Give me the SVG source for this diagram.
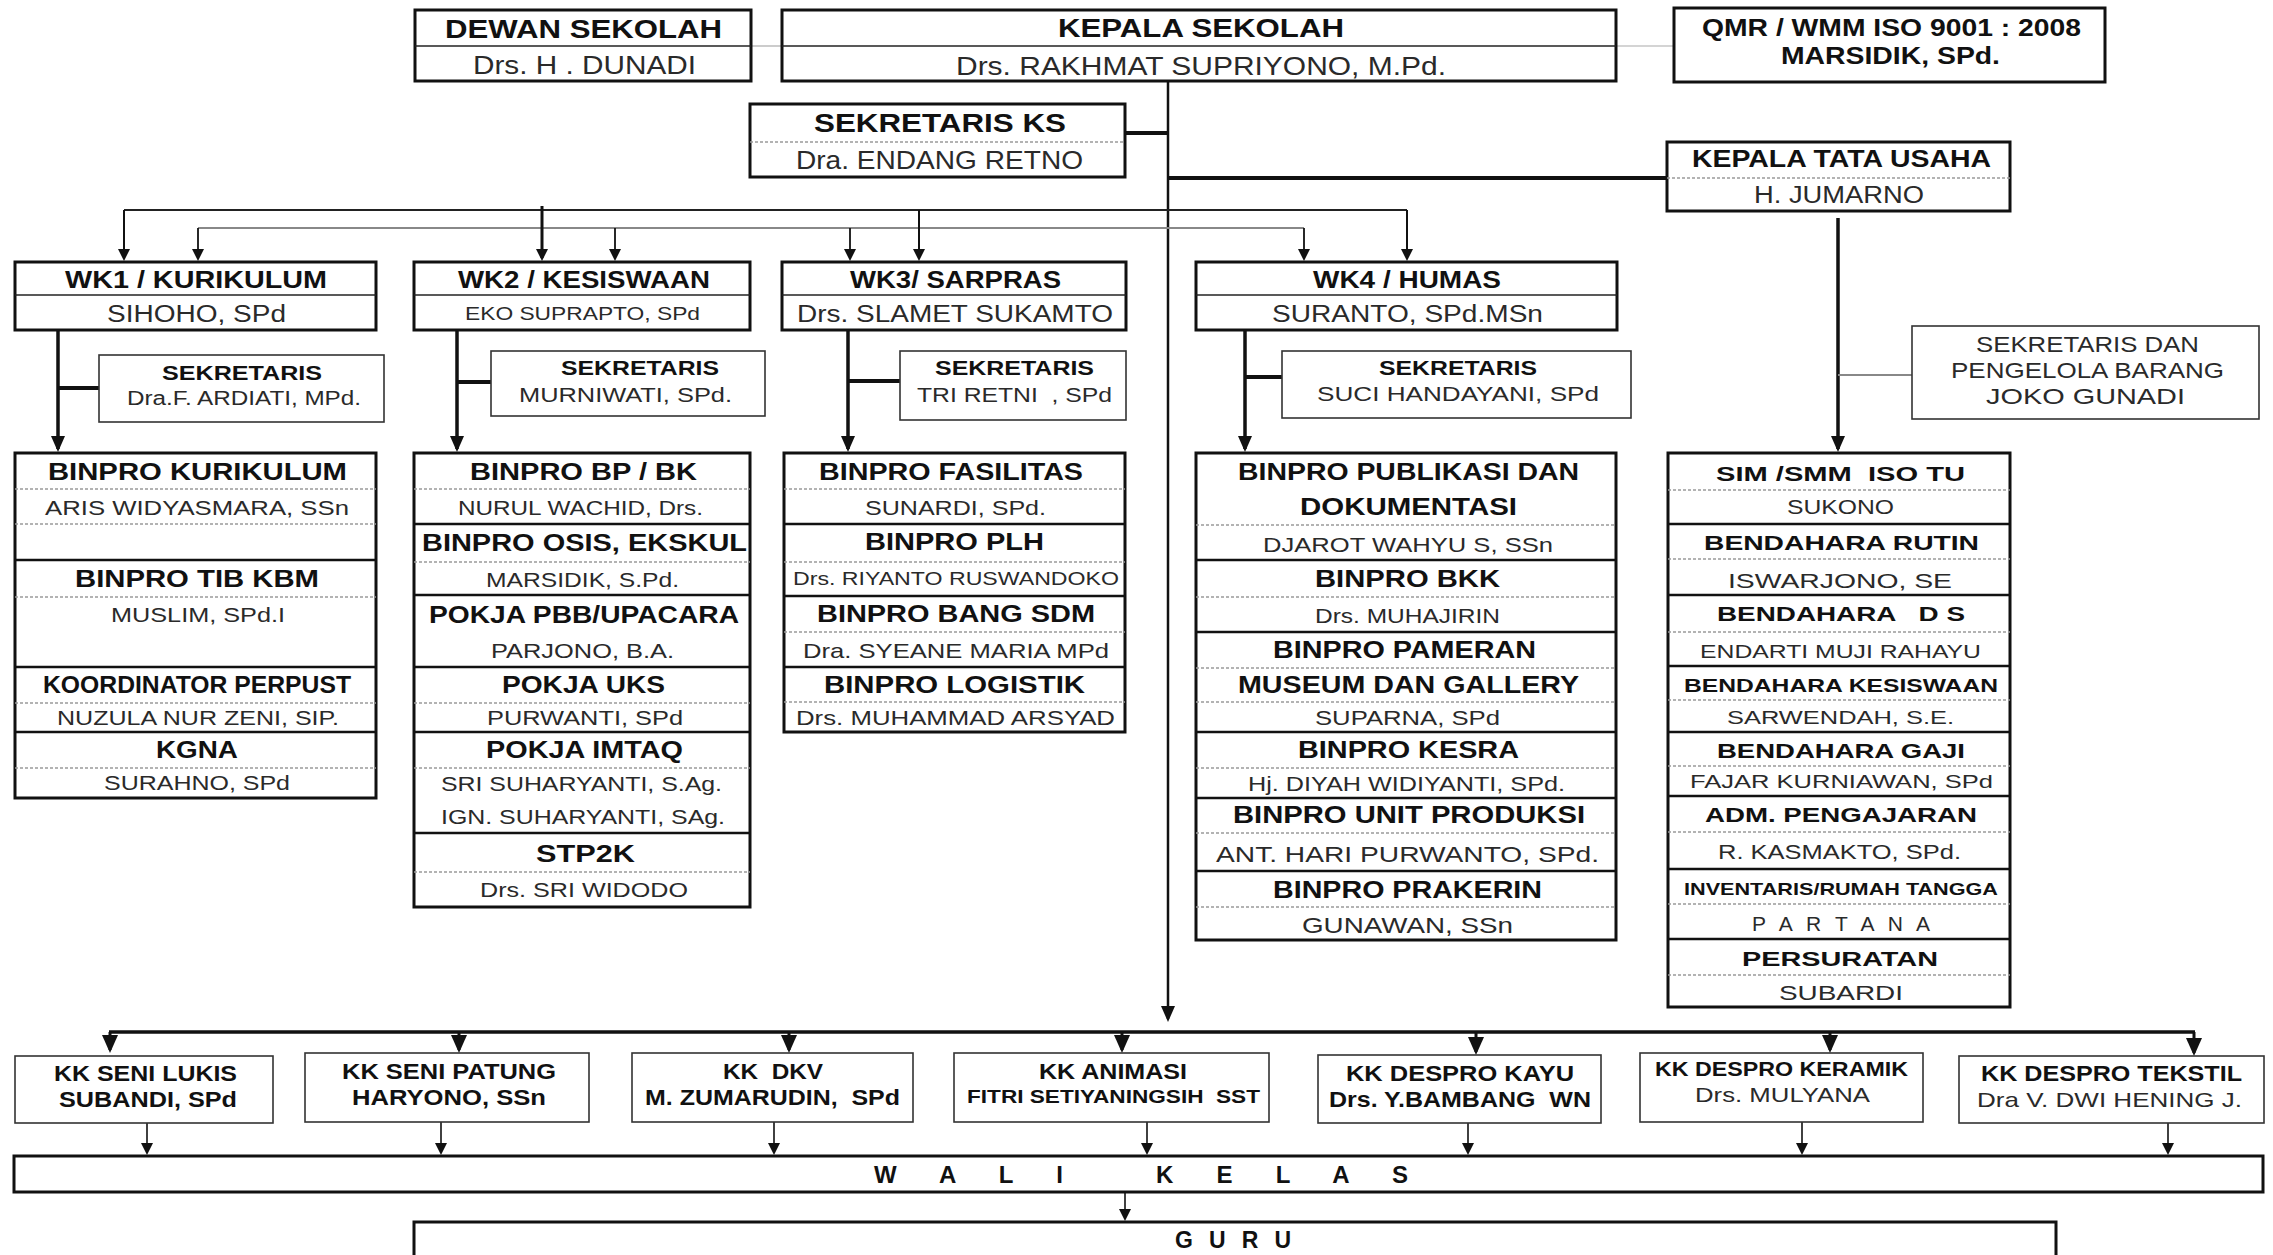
<svg xmlns="http://www.w3.org/2000/svg" width="2273" height="1255" viewBox="0 0 2273 1255">
<defs>
<style>
text{font-family:"Liberation Sans",Arial,sans-serif;white-space:pre}
.b{font-weight:bold;fill:#111}
.r{fill:#2a2a2a}
.f25{font-size:25px}.f24{font-size:24px}.f23{font-size:23px}.f22{font-size:22px}.f21{font-size:21px}.f20{font-size:20px}.f19{font-size:19px}.f18{font-size:18px}.f17{font-size:17px}
.bx{fill:#fff;stroke:#111;stroke-width:3}
.bxt{fill:#fff;stroke:#333;stroke-width:1.6}
.sd{stroke:#111;stroke-width:2.5}
.td{stroke:#222;stroke-width:1.5}
.dd{stroke:#9a9a9a;stroke-width:1.5;stroke-dasharray:3 2}
.cn{stroke:#111;fill:none}
</style>
<marker id="aS" viewBox="0 0 12 12" refX="9" refY="6" markerWidth="12" markerHeight="12" markerUnits="userSpaceOnUse" orient="auto"><path d="M0,0 L12,6 L0,12 z" fill="#111"/></marker>
<marker id="aM" viewBox="0 0 16 14" refX="13" refY="7" markerWidth="16" markerHeight="14" markerUnits="userSpaceOnUse" orient="auto"><path d="M0,0 L16,7 L0,14 z" fill="#111"/></marker>
<marker id="aL" viewBox="0 0 18 16" refX="15" refY="8" markerWidth="18" markerHeight="16" markerUnits="userSpaceOnUse" orient="auto"><path d="M0,0 L18,8 L0,16 z" fill="#111"/></marker>
</defs>
<rect x="0" y="0" width="2273" height="1255" fill="#fff"/>

<g id="connectors" class="cn">
<line x1="751" y1="46" x2="782" y2="46" stroke="#aaa" stroke-width="1.2"/>
<line x1="1616" y1="46" x2="1674" y2="46" stroke="#aaa" stroke-width="1.2"/>
<line x1="1168" y1="81" x2="1168" y2="1019" stroke-width="2.5" marker-end="url(#aM)"/>
<line x1="1125" y1="133" x2="1168" y2="133" stroke-width="4"/>
<line x1="1168" y1="178" x2="1667" y2="178" stroke-width="4"/>
<line x1="124" y1="210" x2="1407" y2="210" stroke="#222" stroke-width="2"/>
<line x1="198" y1="228" x2="1304" y2="228" stroke="#888" stroke-width="2"/>
<line x1="124" y1="210" x2="124" y2="258" stroke-width="2" marker-end="url(#aS)"/>
<line x1="542" y1="206" x2="542" y2="258" stroke-width="3" marker-end="url(#aS)"/>
<line x1="919" y1="210" x2="919" y2="258" stroke-width="2" marker-end="url(#aS)"/>
<line x1="1407" y1="210" x2="1407" y2="258" stroke-width="2" marker-end="url(#aS)"/>
<line x1="198" y1="228" x2="198" y2="258" stroke-width="1.8" marker-end="url(#aS)"/>
<line x1="615" y1="228" x2="615" y2="258" stroke-width="1.8" marker-end="url(#aS)"/>
<line x1="850" y1="228" x2="850" y2="258" stroke-width="1.8" marker-end="url(#aS)"/>
<line x1="1304" y1="228" x2="1304" y2="258" stroke-width="1.8" marker-end="url(#aS)"/>
<line x1="58" y1="331" x2="58" y2="449" stroke-width="3.5" marker-end="url(#aM)"/>
<line x1="58" y1="388" x2="99" y2="388" stroke-width="4"/>
<line x1="457" y1="331" x2="457" y2="449" stroke-width="3.5" marker-end="url(#aM)"/>
<line x1="457" y1="382" x2="491" y2="382" stroke-width="4"/>
<line x1="848" y1="331" x2="848" y2="449" stroke-width="3.5" marker-end="url(#aM)"/>
<line x1="848" y1="381" x2="900" y2="381" stroke-width="4"/>
<line x1="1245" y1="331" x2="1245" y2="449" stroke-width="3.5" marker-end="url(#aM)"/>
<line x1="1245" y1="377" x2="1282" y2="377" stroke-width="4"/>
<line x1="1838" y1="218" x2="1838" y2="449" stroke-width="3.5" marker-end="url(#aM)"/>
<line x1="1838" y1="375" x2="1912" y2="375" stroke="#888" stroke-width="2"/>
<line x1="109" y1="1032" x2="2195" y2="1032" stroke-width="3.5"/>
<line x1="110" y1="1032" x2="110" y2="1050" stroke-width="3" marker-end="url(#aL)"/>
<line x1="459" y1="1032" x2="459" y2="1050" stroke-width="3" marker-end="url(#aL)"/>
<line x1="789" y1="1032" x2="789" y2="1050" stroke-width="3" marker-end="url(#aL)"/>
<line x1="1122" y1="1032" x2="1122" y2="1050" stroke-width="3" marker-end="url(#aL)"/>
<line x1="1476" y1="1032" x2="1476" y2="1052" stroke-width="3" marker-end="url(#aL)"/>
<line x1="1830" y1="1032" x2="1830" y2="1050" stroke-width="3" marker-end="url(#aL)"/>
<line x1="2194" y1="1032" x2="2194" y2="1053" stroke-width="3" marker-end="url(#aL)"/>
<line x1="147" y1="1123" x2="147" y2="1152" stroke-width="1.6" marker-end="url(#aS)"/>
<line x1="441" y1="1122" x2="441" y2="1152" stroke-width="1.6" marker-end="url(#aS)"/>
<line x1="774" y1="1122" x2="774" y2="1152" stroke-width="1.6" marker-end="url(#aS)"/>
<line x1="1147" y1="1122" x2="1147" y2="1152" stroke-width="1.6" marker-end="url(#aS)"/>
<line x1="1468" y1="1123" x2="1468" y2="1152" stroke-width="1.6" marker-end="url(#aS)"/>
<line x1="1802" y1="1122" x2="1802" y2="1152" stroke-width="1.6" marker-end="url(#aS)"/>
<line x1="2168" y1="1123" x2="2168" y2="1152" stroke-width="1.6" marker-end="url(#aS)"/>
<line x1="1125" y1="1192" x2="1125" y2="1218" stroke-width="1.6" marker-end="url(#aS)"/>
</g>

<g id="dewan-sekolah">
<rect class="bx" x="415" y="10" width="336" height="71" stroke-width="2.5"/>
<line class="td" x1="415" y1="46" x2="751" y2="46"/>
<text class="b f25" x="445" y="38" textLength="277" lengthAdjust="spacingAndGlyphs">DEWAN SEKOLAH</text>
<text class="r f25" x="473" y="74" textLength="223" lengthAdjust="spacingAndGlyphs">Drs. H . DUNADI</text>
</g>
<g id="kepala-sekolah">
<rect class="bx" x="782" y="10" width="834" height="71" stroke-width="2.5"/>
<line class="td" x1="782" y1="46" x2="1616" y2="46"/>
<text class="b f25" x="1058" y="37" textLength="286" lengthAdjust="spacingAndGlyphs">KEPALA SEKOLAH</text>
<text class="r f25" x="956" y="75" textLength="490" lengthAdjust="spacingAndGlyphs">Drs. RAKHMAT SUPRIYONO, M.Pd.</text>
</g>
<g id="qmr">
<rect class="bx" x="1674" y="8" width="431" height="74" stroke-width="4"/>
<text class="b f23" x="1702" y="36" textLength="379" lengthAdjust="spacingAndGlyphs">QMR / WMM ISO 9001 : 2008</text>
<text class="b f23" x="1781" y="64" textLength="219" lengthAdjust="spacingAndGlyphs">MARSIDIK, SPd.</text>
</g>
<g id="sekretaris-ks">
<rect class="bx" x="750" y="104" width="375" height="73"/>
<line class="dd" x1="750" y1="142" x2="1125" y2="142"/>
<text class="b f25" x="814" y="132" textLength="252" lengthAdjust="spacingAndGlyphs">SEKRETARIS KS</text>
<text class="r f25" x="796" y="169" textLength="287" lengthAdjust="spacingAndGlyphs">Dra. ENDANG RETNO</text>
</g>
<g id="kepala-tata-usaha">
<rect class="bx" x="1667" y="142" width="343" height="69" stroke-width="2.5"/>
<line class="dd" x1="1667" y1="178" x2="2010" y2="178"/>
<text class="b f23" x="1692" y="167" textLength="299" lengthAdjust="spacingAndGlyphs">KEPALA TATA USAHA</text>
<text class="r f23" x="1754" y="203" textLength="170" lengthAdjust="spacingAndGlyphs">H. JUMARNO</text>
</g>
<g id="sekretaris-pengelola-barang">
<rect class="bxt" x="1912" y="326" width="347" height="93" stroke="#555"/>
<text class="r f22" x="1976" y="352" textLength="223" lengthAdjust="spacingAndGlyphs">SEKRETARIS DAN</text>
<text class="r f22" x="1951" y="378" textLength="273" lengthAdjust="spacingAndGlyphs">PENGELOLA BARANG</text>
<text class="r f22" x="1986" y="404" textLength="199" lengthAdjust="spacingAndGlyphs">JOKO GUNADI</text>
</g>

<g id="wk1">
<rect class="bx" x="15" y="262" width="361" height="68"/>
<line class="td" x1="15" y1="295" x2="376" y2="295"/>
<text class="b f24" x="65" y="288" textLength="262" lengthAdjust="spacingAndGlyphs">WK1 / KURIKULUM</text>
<text class="r f23" x="107" y="322" textLength="179" lengthAdjust="spacingAndGlyphs">SIHOHO, SPd</text>
</g>
<g id="wk2">
<rect class="bx" x="414" y="262" width="336" height="68"/>
<line class="td" x1="414" y1="295" x2="750" y2="295"/>
<text class="b f24" x="458" y="288" textLength="252" lengthAdjust="spacingAndGlyphs">WK2 / KESISWAAN</text>
<text class="r f18" x="465" y="320" textLength="235" lengthAdjust="spacingAndGlyphs">EKO SUPRAPTO, SPd</text>
</g>
<g id="wk3">
<rect class="bx" x="782" y="262" width="344" height="68"/>
<line class="td" x1="782" y1="295" x2="1126" y2="295"/>
<text class="b f24" x="850" y="288" textLength="211" lengthAdjust="spacingAndGlyphs">WK3/ SARPRAS</text>
<text class="r f23" x="797" y="322" textLength="316" lengthAdjust="spacingAndGlyphs">Drs. SLAMET SUKAMTO</text>
</g>
<g id="wk4">
<rect class="bx" x="1196" y="262" width="421" height="68"/>
<line class="td" x1="1196" y1="295" x2="1617" y2="295"/>
<text class="b f24" x="1313" y="288" textLength="188" lengthAdjust="spacingAndGlyphs">WK4 / HUMAS</text>
<text class="r f23" x="1272" y="322" textLength="271" lengthAdjust="spacingAndGlyphs">SURANTO, SPd.MSn</text>
</g>

<g id="sekretaris-wk1">
<rect class="bxt" x="99" y="355" width="285" height="67"/>
<text class="b f21" x="162" y="380" textLength="160" lengthAdjust="spacingAndGlyphs">SEKRETARIS</text>
<text class="r f20" x="127" y="405" textLength="234" lengthAdjust="spacingAndGlyphs">Dra.F. ARDIATI, MPd.</text>
</g>
<g id="sekretaris-wk2">
<rect class="bxt" x="491" y="351" width="274" height="65"/>
<text class="b f21" x="561" y="375" textLength="158" lengthAdjust="spacingAndGlyphs">SEKRETARIS</text>
<text class="r f21" x="519" y="402" textLength="213" lengthAdjust="spacingAndGlyphs">MURNIWATI, SPd.</text>
</g>
<g id="sekretaris-wk3">
<rect class="bxt" x="900" y="351" width="226" height="69"/>
<text class="b f21" x="935" y="375" textLength="159" lengthAdjust="spacingAndGlyphs">SEKRETARIS</text>
<text class="r f21" x="917" y="402" textLength="195" lengthAdjust="spacingAndGlyphs" xml:space="preserve">TRI RETNI  , SPd</text>
</g>
<g id="sekretaris-wk4">
<rect class="bxt" x="1282" y="351" width="349" height="67"/>
<text class="b f21" x="1379" y="375" textLength="158" lengthAdjust="spacingAndGlyphs">SEKRETARIS</text>
<text class="r f21" x="1317" y="401" textLength="282" lengthAdjust="spacingAndGlyphs">SUCI HANDAYANI, SPd</text>
</g>

<g id="kurikulum-units">
<rect class="bx" x="15" y="453" width="361" height="345"/>
<line class="dd" x1="15" y1="489" x2="376" y2="489"/>
<line class="dd" x1="15" y1="524" x2="376" y2="524"/>
<line class="sd" x1="15" y1="560" x2="376" y2="560"/>
<line class="dd" x1="15" y1="597" x2="376" y2="597"/>
<line class="sd" x1="15" y1="667" x2="376" y2="667"/>
<line class="dd" x1="15" y1="703" x2="376" y2="703"/>
<line class="sd" x1="15" y1="732" x2="376" y2="732"/>
<line class="dd" x1="15" y1="768" x2="376" y2="768"/>
<text class="b f23" x="48" y="480" textLength="299" lengthAdjust="spacingAndGlyphs">BINPRO KURIKULUM</text>
<text class="r f21" x="45" y="515" textLength="304" lengthAdjust="spacingAndGlyphs">ARIS WIDYASMARA, SSn</text>
<text class="b f23" x="75" y="587" textLength="244" lengthAdjust="spacingAndGlyphs">BINPRO TIB KBM</text>
<text class="r f21" x="111" y="622" textLength="174" lengthAdjust="spacingAndGlyphs">MUSLIM, SPd.I</text>
<text class="b f23" x="43" y="693" textLength="308" lengthAdjust="spacingAndGlyphs">KOORDINATOR PERPUST</text>
<text class="r f21" x="57" y="725" textLength="282" lengthAdjust="spacingAndGlyphs">NUZULA NUR ZENI, SIP.</text>
<text class="b f23" x="156" y="758" textLength="82" lengthAdjust="spacingAndGlyphs">KGNA</text>
<text class="r f21" x="104" y="790" textLength="186" lengthAdjust="spacingAndGlyphs">SURAHNO, SPd</text>
</g>

<g id="kesiswaan-units">
<rect class="bx" x="414" y="453" width="336" height="454"/>
<line class="dd" x1="414" y1="489" x2="750" y2="489"/>
<line class="sd" x1="414" y1="524" x2="750" y2="524"/>
<line class="dd" x1="414" y1="562" x2="750" y2="562"/>
<line class="sd" x1="414" y1="595" x2="750" y2="595"/>
<line class="sd" x1="414" y1="667" x2="750" y2="667"/>
<line class="dd" x1="414" y1="703" x2="750" y2="703"/>
<line class="sd" x1="414" y1="732" x2="750" y2="732"/>
<line class="dd" x1="414" y1="768" x2="750" y2="768"/>
<line class="sd" x1="414" y1="833" x2="750" y2="833"/>
<line class="dd" x1="414" y1="872" x2="750" y2="872"/>
<text class="b f23" x="470" y="480" textLength="227" lengthAdjust="spacingAndGlyphs">BINPRO BP / BK</text>
<text class="r f21" x="458" y="515" textLength="245" lengthAdjust="spacingAndGlyphs">NURUL WACHID, Drs.</text>
<text class="b f23" x="422" y="551" textLength="325" lengthAdjust="spacingAndGlyphs">BINPRO OSIS, EKSKUL</text>
<text class="r f21" x="486" y="587" textLength="193" lengthAdjust="spacingAndGlyphs">MARSIDIK, S.Pd.</text>
<text class="b f23" x="429" y="623" textLength="310" lengthAdjust="spacingAndGlyphs">POKJA PBB/UPACARA</text>
<text class="r f21" x="491" y="658" textLength="183" lengthAdjust="spacingAndGlyphs">PARJONO, B.A.</text>
<text class="b f23" x="502" y="693" textLength="163" lengthAdjust="spacingAndGlyphs">POKJA UKS</text>
<text class="r f21" x="487" y="725" textLength="196" lengthAdjust="spacingAndGlyphs">PURWANTI, SPd</text>
<text class="b f23" x="486" y="758" textLength="197" lengthAdjust="spacingAndGlyphs">POKJA IMTAQ</text>
<text class="r f21" x="441" y="791" textLength="281" lengthAdjust="spacingAndGlyphs">SRI SUHARYANTI, S.Ag.</text>
<text class="r f21" x="441" y="824" textLength="284" lengthAdjust="spacingAndGlyphs">IGN. SUHARYANTI, SAg.</text>
<text class="b f23" x="536" y="862" textLength="99" lengthAdjust="spacingAndGlyphs">STP2K</text>
<text class="r f21" x="480" y="897" textLength="208" lengthAdjust="spacingAndGlyphs">Drs. SRI WIDODO</text>
</g>

<g id="sarpras-units">
<rect class="bx" x="784" y="453" width="341" height="279"/>
<line class="dd" x1="784" y1="489" x2="1125" y2="489"/>
<line class="sd" x1="784" y1="524" x2="1125" y2="524"/>
<line class="dd" x1="784" y1="562" x2="1125" y2="562"/>
<line class="sd" x1="784" y1="596" x2="1125" y2="596"/>
<line class="dd" x1="784" y1="632" x2="1125" y2="632"/>
<line class="sd" x1="784" y1="667" x2="1125" y2="667"/>
<line class="dd" x1="784" y1="702" x2="1125" y2="702"/>
<text class="b f23" x="819" y="480" textLength="264" lengthAdjust="spacingAndGlyphs">BINPRO FASILITAS</text>
<text class="r f21" x="865" y="515" textLength="181" lengthAdjust="spacingAndGlyphs">SUNARDI, SPd.</text>
<text class="b f23" x="865" y="550" textLength="179" lengthAdjust="spacingAndGlyphs">BINPRO PLH</text>
<text class="r f19" x="793" y="585" textLength="326" lengthAdjust="spacingAndGlyphs">Drs. RIYANTO RUSWANDOKO</text>
<text class="b f23" x="817" y="622" textLength="278" lengthAdjust="spacingAndGlyphs">BINPRO BANG SDM</text>
<text class="r f21" x="803" y="658" textLength="306" lengthAdjust="spacingAndGlyphs">Dra. SYEANE MARIA MPd</text>
<text class="b f23" x="824" y="693" textLength="261" lengthAdjust="spacingAndGlyphs">BINPRO LOGISTIK</text>
<text class="r f21" x="796" y="725" textLength="319" lengthAdjust="spacingAndGlyphs">Drs. MUHAMMAD ARSYAD</text>
</g>

<g id="humas-units">
<rect class="bx" x="1196" y="453" width="420" height="487"/>
<line class="dd" x1="1196" y1="525" x2="1616" y2="525"/>
<line class="sd" x1="1196" y1="560" x2="1616" y2="560"/>
<line class="dd" x1="1196" y1="597" x2="1616" y2="597"/>
<line class="sd" x1="1196" y1="632" x2="1616" y2="632"/>
<line class="dd" x1="1196" y1="668" x2="1616" y2="668"/>
<line class="dd" x1="1196" y1="702" x2="1616" y2="702"/>
<line class="sd" x1="1196" y1="732" x2="1616" y2="732"/>
<line class="dd" x1="1196" y1="768" x2="1616" y2="768"/>
<line class="sd" x1="1196" y1="798" x2="1616" y2="798"/>
<line class="dd" x1="1196" y1="833" x2="1616" y2="833" stroke-width="2.5"/>
<line class="sd" x1="1196" y1="871" x2="1616" y2="871"/>
<line class="dd" x1="1196" y1="907" x2="1616" y2="907"/>
<text class="b f23" x="1238" y="480" textLength="341" lengthAdjust="spacingAndGlyphs">BINPRO PUBLIKASI DAN</text>
<text class="b f23" x="1300" y="515" textLength="217" lengthAdjust="spacingAndGlyphs">DOKUMENTASI</text>
<text class="r f21" x="1263" y="552" textLength="290" lengthAdjust="spacingAndGlyphs">DJAROT WAHYU S, SSn</text>
<text class="b f23" x="1315" y="587" textLength="185" lengthAdjust="spacingAndGlyphs">BINPRO BKK</text>
<text class="r f21" x="1315" y="623" textLength="185" lengthAdjust="spacingAndGlyphs">Drs. MUHAJIRIN</text>
<text class="b f23" x="1273" y="658" textLength="263" lengthAdjust="spacingAndGlyphs">BINPRO PAMERAN</text>
<text class="b f23" x="1238" y="693" textLength="341" lengthAdjust="spacingAndGlyphs">MUSEUM DAN GALLERY</text>
<text class="r f21" x="1315" y="725" textLength="185" lengthAdjust="spacingAndGlyphs">SUPARNA, SPd</text>
<text class="b f23" x="1298" y="758" textLength="221" lengthAdjust="spacingAndGlyphs">BINPRO KESRA</text>
<text class="r f21" x="1248" y="791" textLength="317" lengthAdjust="spacingAndGlyphs">Hj. DIYAH WIDIYANTI, SPd.</text>
<text class="b f23" x="1233" y="823" textLength="352" lengthAdjust="spacingAndGlyphs">BINPRO UNIT PRODUKSI</text>
<text class="r f22" x="1216" y="862" textLength="383" lengthAdjust="spacingAndGlyphs">ANT. HARI PURWANTO, SPd.</text>
<text class="b f23" x="1273" y="898" textLength="269" lengthAdjust="spacingAndGlyphs">BINPRO PRAKERIN</text>
<text class="r f22" x="1302" y="933" textLength="211" lengthAdjust="spacingAndGlyphs">GUNAWAN, SSn</text>
</g>

<g id="tata-usaha-units">
<rect class="bx" x="1668" y="453" width="342" height="554"/>
<line class="dd" x1="1668" y1="490" x2="2010" y2="490"/>
<line class="sd" x1="1668" y1="524" x2="2010" y2="524"/>
<line class="dd" x1="1668" y1="559" x2="2010" y2="559"/>
<line class="sd" x1="1668" y1="595" x2="2010" y2="595"/>
<line class="dd" x1="1668" y1="632" x2="2010" y2="632"/>
<line class="sd" x1="1668" y1="666" x2="2010" y2="666"/>
<line class="dd" x1="1668" y1="700" x2="2010" y2="700"/>
<line class="sd" x1="1668" y1="732" x2="2010" y2="732"/>
<line class="dd" x1="1668" y1="766" x2="2010" y2="766"/>
<line class="sd" x1="1668" y1="796" x2="2010" y2="796"/>
<line class="dd" x1="1668" y1="832" x2="2010" y2="832"/>
<line class="sd" x1="1668" y1="869" x2="2010" y2="869"/>
<line class="dd" x1="1668" y1="904" x2="2010" y2="904"/>
<line class="sd" x1="1668" y1="939" x2="2010" y2="939"/>
<line class="dd" x1="1668" y1="975" x2="2010" y2="975"/>
<text class="b f21" x="1716" y="481" textLength="249" lengthAdjust="spacingAndGlyphs" xml:space="preserve">SIM /SMM  ISO TU</text>
<text class="r f20" x="1787" y="514" textLength="107" lengthAdjust="spacingAndGlyphs">SUKONO</text>
<text class="b f21" x="1704" y="550" textLength="275" lengthAdjust="spacingAndGlyphs">BENDAHARA RUTIN</text>
<text class="r f21" x="1728" y="588" textLength="224" lengthAdjust="spacingAndGlyphs">ISWARJONO, SE</text>
<text class="b f21" x="1717" y="621" textLength="248" lengthAdjust="spacingAndGlyphs" xml:space="preserve">BENDAHARA   D S</text>
<text class="r f19" x="1700" y="658" textLength="281" lengthAdjust="spacingAndGlyphs">ENDARTI MUJI RAHAYU</text>
<text class="b f19" x="1684" y="692" textLength="314" lengthAdjust="spacingAndGlyphs">BENDAHARA KESISWAAN</text>
<text class="r f19" x="1727" y="724" textLength="227" lengthAdjust="spacingAndGlyphs">SARWENDAH, S.E.</text>
<text class="b f21" x="1717" y="758" textLength="248" lengthAdjust="spacingAndGlyphs">BENDAHARA GAJI</text>
<text class="r f19" x="1690" y="788" textLength="303" lengthAdjust="spacingAndGlyphs">FAJAR KURNIAWAN, SPd</text>
<text class="b f21" x="1705" y="822" textLength="272" lengthAdjust="spacingAndGlyphs">ADM. PENGAJARAN</text>
<text class="r f20" x="1718" y="859" textLength="243" lengthAdjust="spacingAndGlyphs">R. KASMAKTO, SPd.</text>
<text class="b f17" x="1684" y="895" textLength="314" lengthAdjust="spacingAndGlyphs">INVENTARIS/RUMAH TANGGA</text>
<text class="r f21" x="1752" y="931" textLength="178" lengthAdjust="spacing" xml:space="preserve">P A R T A N A</text>
<text class="b f21" x="1742" y="966" textLength="196" lengthAdjust="spacingAndGlyphs">PERSURATAN</text>
<text class="r f21" x="1779" y="1000" textLength="124" lengthAdjust="spacingAndGlyphs">SUBARDI</text>
</g>

<g id="kk-seni-lukis">
<rect class="bxt" x="15" y="1056" width="258" height="67"/>
<text class="b f22" x="54" y="1081" textLength="183" lengthAdjust="spacingAndGlyphs">KK SENI LUKIS</text>
<text class="b f22" x="59" y="1107" textLength="178" lengthAdjust="spacingAndGlyphs">SUBANDI, SPd</text>
</g>
<g id="kk-seni-patung">
<rect class="bxt" x="305" y="1053" width="284" height="69"/>
<text class="b f22" x="342" y="1079" textLength="214" lengthAdjust="spacingAndGlyphs">KK SENI PATUNG</text>
<text class="b f22" x="352" y="1105" textLength="194" lengthAdjust="spacingAndGlyphs">HARYONO, SSn</text>
</g>
<g id="kk-dkv">
<rect class="bxt" x="632" y="1053" width="281" height="69"/>
<text class="b f22" x="723" y="1079" textLength="100" lengthAdjust="spacingAndGlyphs" xml:space="preserve">KK  DKV</text>
<text class="b f22" x="645" y="1105" textLength="255" lengthAdjust="spacingAndGlyphs" xml:space="preserve">M. ZUMARUDIN,  SPd</text>
</g>
<g id="kk-animasi">
<rect class="bxt" x="954" y="1053" width="315" height="69"/>
<text class="b f22" x="1039" y="1079" textLength="148" lengthAdjust="spacingAndGlyphs">KK ANIMASI</text>
<text class="b f19" x="967" y="1103" textLength="293" lengthAdjust="spacingAndGlyphs" xml:space="preserve">FITRI SETIYANINGSIH  SST</text>
</g>
<g id="kk-despro-kayu">
<rect class="bxt" x="1318" y="1055" width="283" height="68"/>
<text class="b f22" x="1346" y="1081" textLength="228" lengthAdjust="spacingAndGlyphs">KK DESPRO KAYU</text>
<text class="b f22" x="1329" y="1107" textLength="262" lengthAdjust="spacingAndGlyphs" xml:space="preserve">Drs. Y.BAMBANG  WN</text>
</g>
<g id="kk-despro-keramik">
<rect class="bxt" x="1640" y="1053" width="283" height="69"/>
<text class="b f21" x="1655" y="1076" textLength="253" lengthAdjust="spacingAndGlyphs">KK DESPRO KERAMIK</text>
<text class="r f21" x="1695" y="1102" textLength="175" lengthAdjust="spacingAndGlyphs">Drs. MULYANA</text>
</g>
<g id="kk-despro-tekstil">
<rect class="bxt" x="1959" y="1056" width="305" height="67"/>
<text class="b f22" x="1981" y="1081" textLength="261" lengthAdjust="spacingAndGlyphs">KK DESPRO TEKSTIL</text>
<text class="r f21" x="1977" y="1107" textLength="265" lengthAdjust="spacingAndGlyphs">Dra V. DWI HENING J.</text>
</g>

<g id="wali-kelas">
<rect class="bx" x="14" y="1156" width="2249" height="36"/>
<text class="b f24" x="874" y="1183" textLength="534" lengthAdjust="spacing" xml:space="preserve">W A L I   K E L A S</text>
</g>
<g id="guru">
<rect class="bx" x="414" y="1222" width="1642" height="50"/>
<text class="b f23" x="1175" y="1248" textLength="116" lengthAdjust="spacing">G U R U</text>
</g>
</svg>
